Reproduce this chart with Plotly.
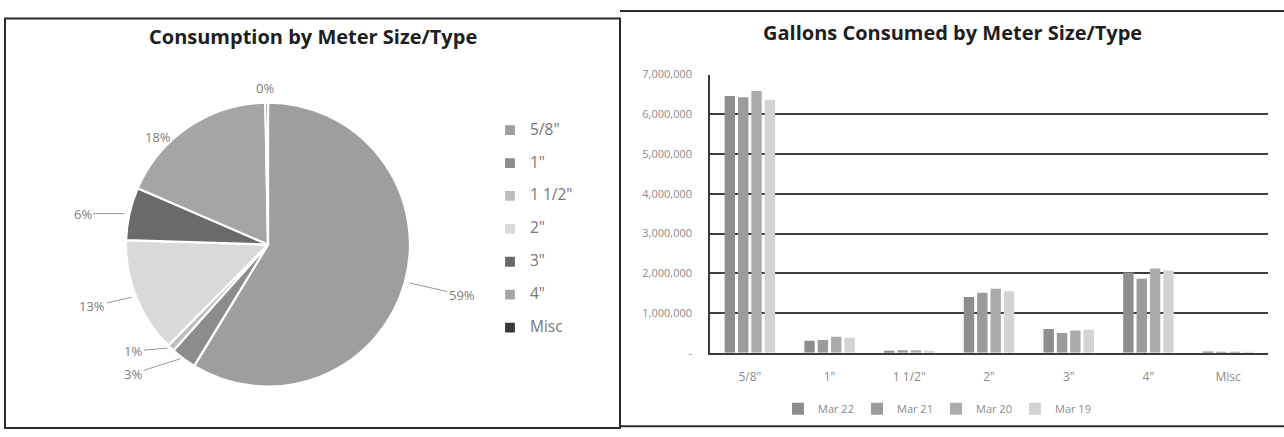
import math
import plotly.graph_objects as go

# ---- data -------------------------------------------------------------
meter_types = ['5/8"', '1"', '1 1/2"', '2"', '3"', '4"', 'Misc']

# share of total consumption (percent) for the pie
pie_share = [58.7, 2.9, 0.8, 13.1, 6.0, 18.2, 0.3]

# gallons consumed per meter size, by period
periods = ["Mar 22", "Mar 21", "Mar 20", "Mar 19"]
mar22 = [6460000, 300000, 50000, 1400000, 600000, 2020000, 30000]
mar21 = [6430000, 320000, 60000, 1510000, 500000, 1860000, 20000]
mar20 = [6590000, 400000, 60000, 1610000, 560000, 2120000, 20000]
mar19 = [6370000, 380000, 50000, 1550000, 580000, 2070000, 20000]

y_tick_values = [0, 1000000, 2000000, 3000000, 4000000, 5000000, 6000000, 7000000]
y_tick_labels = ["-", "1,000,000", "2,000,000", "3,000,000", "4,000,000",
                 "5,000,000", "6,000,000", "7,000,000"]

# ---- styling ----------------------------------------------------------
W, H = 1284, 437
pie_colors = ["#9e9e9e", "#8c8c8c", "#bdbdbd", "#d9d9d9", "#6a6a6a", "#a5a5a5", "#3a3a3a"]
bar_colors = ["#8e8e8e", "#9b9b9b", "#ababab", "#d3d3d3"]
label_grey = "#7d7d7d"
title_font = dict(family="Open Sans", size=20, color="#1e1e1e")


def px_x(x):
    return x / W


def px_y(y):
    return 1 - y / H


# pie geometry (pixels)
pie_cx, pie_cy, pie_r = 268, 245, 147

fig = go.Figure()

# legend entries: small base size keeps the rows compact, the span sets the visible size
legend_labels = ['<span style="font-size:15.5px">' + m + '</span><br> ' for m in meter_types]

fig.add_trace(go.Pie(
    labels=legend_labels,
    values=pie_share,
    sort=False,
    direction="clockwise",
    rotation=0,
    textinfo="none",
    hoverinfo="percent",
    marker=dict(colors=pie_colors, line=dict(color="white", width=2.2)),
    domain=dict(x=[px_x(pie_cx - pie_r), px_x(pie_cx + pie_r)],
                y=[px_y(pie_cy + pie_r), px_y(pie_cy - pie_r)]),
    legend="legend",
))

bar_series = [mar22, mar21, mar20, mar19]
for name, vals, col in zip(periods, bar_series, bar_colors):
    fig.add_trace(go.Bar(
        x=meter_types, y=vals, name=name,
        marker=dict(color=col, line=dict(width=0)),
        legend="legend2",
    ))

# percentage labels with short leader lines
label_offsets = [  # (dx, dy, with leader)
    (52, 12, True),
    (-47, 15, True),
    (-34, 3, True),
    (-39, 9, True),
    (-42, 0, True),
    (-28, 10, False),
    (-2, -15, False),
]
total = sum(pie_share)
annotations = []
cum = 0.0
for share, (dx, dy, leader) in zip(pie_share, label_offsets):
    mid = (cum + share / 2) / total * 2 * math.pi
    cum += share
    ex = pie_cx + pie_r * math.sin(mid)
    ey = pie_cy - pie_r * math.cos(mid)
    text = f"{round(share / total * 100)}%"
    common = dict(x=px_x(ex), y=px_y(ey), xref="paper", yref="paper", text=text,
                  xanchor="center", yanchor="middle",
                  font=dict(family="Open Sans", size=13, color=label_grey))
    if leader:
        annotations.append(dict(common, showarrow=True, ax=dx, ay=dy,
                                arrowhead=0, arrowwidth=0.9, arrowcolor="#8a8a8a",
                                standoff=0))
    else:
        annotations.append(dict(common, showarrow=False, xshift=dx, yshift=-dy))

annotations += [
    dict(text="<b>Consumption by Meter Size/Type</b>", x=px_x(313), y=px_y(30),
         xref="paper", yref="paper", xanchor="center", yanchor="middle",
         showarrow=False, font=title_font),
    dict(text="<b>Gallons Consumed by Meter Size/Type</b>", x=px_x(952), y=px_y(25),
         xref="paper", yref="paper", xanchor="center", yanchor="middle",
         showarrow=False, font=title_font),
]

border = dict(color="#2b2b2b", width=2)
shapes = [
    dict(type="rect", xref="paper", yref="paper",
         x0=px_x(5), x1=px_x(620), y0=px_y(435), y1=px_y(11), line=border),
    dict(type="line", xref="paper", yref="paper",
         x0=px_x(620), x1=px_x(1284), y0=px_y(3), y1=px_y(3), line=border),
    dict(type="line", xref="paper", yref="paper",
         x0=px_x(620), x1=px_x(1284), y0=px_y(433), y1=px_y(433), line=border),
]

fig.update_layout(
    width=W, height=H,
    margin=dict(l=0, r=0, t=0, b=0),
    paper_bgcolor="white", plot_bgcolor="white",
    barmode="group", bargap=0.33, bargroupgap=0.22,
    font=dict(family="Open Sans", color=label_grey),
    xaxis=dict(domain=[px_x(710), px_x(1268)], showgrid=False,
               showline=True, linecolor="#3a3a3a", linewidth=1.5,
               ticks="", ticklabelstandoff=12,
               tickfont=dict(size=12, color="#8a8a8a")),
    yaxis=dict(domain=[px_y(357), px_y(69)], range=[0, 7000000],
               tickvals=y_tick_values, ticktext=y_tick_labels,
               showgrid=True, gridcolor="#3f3f3f", gridwidth=1.6,
               showline=True, linecolor="#3a3a3a", linewidth=1.5,
               zeroline=False, ticks="", ticklabelstandoff=14,
               tickfont=dict(size=11, color="#8a8a8a")),
    legend=dict(x=px_x(490), y=px_y(112), xanchor="left", yanchor="top",
                orientation="v", valign="top", bgcolor="rgba(0,0,0,0)",
                font=dict(family="Open Sans", size=11.5, color="#777777"),
                itemwidth=30),
    legend2=dict(x=px_x(936), y=px_y(415), xanchor="center", yanchor="middle",
                 orientation="h", bgcolor="rgba(0,0,0,0)", entrywidth=34,
                 font=dict(family="Open Sans", size=11, color="#8a8a8a")),
    annotations=annotations,
    shapes=shapes,
    showlegend=True,
)

fig.write_html("out.html")
